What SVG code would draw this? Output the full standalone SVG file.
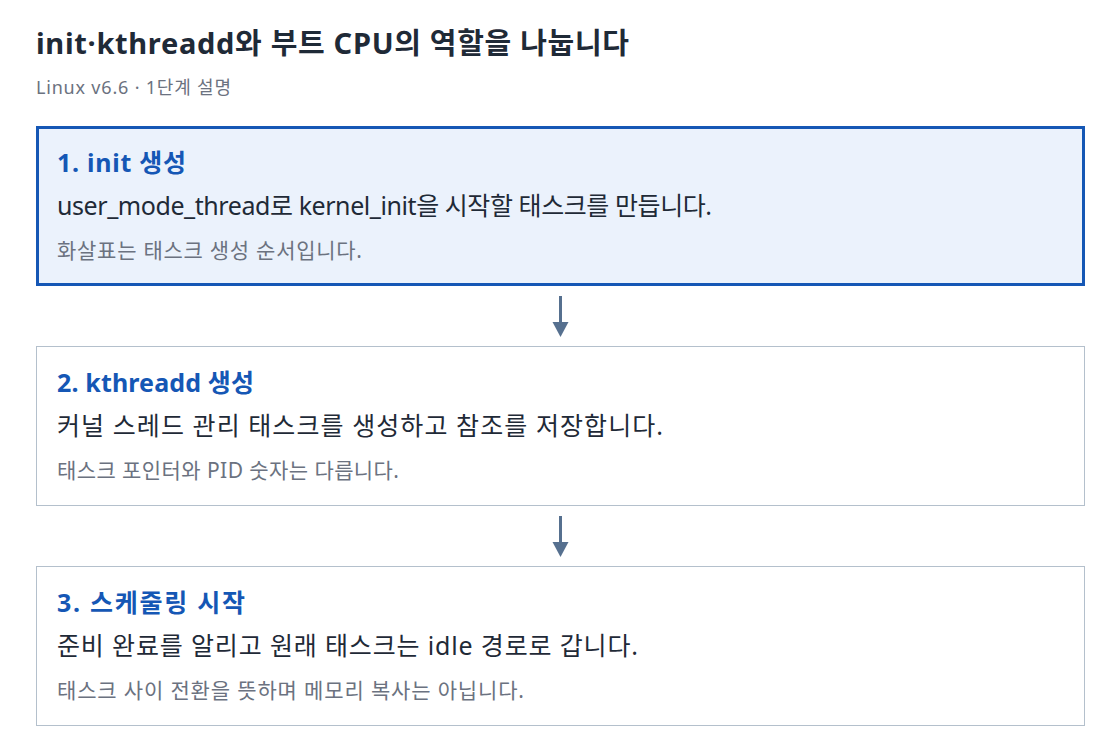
<svg xmlns="http://www.w3.org/2000/svg" width="1120" height="754" viewBox="0 0 1120 754">
<style>
text{font-family:"Noto Sans","Noto Sans CJK KR",sans-serif}
.title{font-size:29px;font-weight:700;fill:#1f2a37}
.sub{font-size:18px;fill:#6b7280}
.h{font-size:25px;font-weight:700;fill:#1557b5}
.b{font-size:25px;fill:#1f2a37}
.n{font-size:21px;fill:#6b7280}
.box{fill:#ffffff;stroke:#b4c0cc;stroke-width:1}
.box.on{fill:#ebf2fc;stroke:#1557b5;stroke-width:3}
.conn{stroke:#56708f;stroke-width:3;fill:none}
.head{fill:#56708f}
</style>
<rect width="1120" height="754" fill="#ffffff"/>
<text class="title" x="36" y="54" textLength="593">init·kthreadd와 부트 CPU의 역할을 나눕니다</text>
<text class="sub" x="36" y="94" textLength="195">Linux v6.6 · 1단계 설명</text>
<g id="connectors">
<line class="conn" x1="560.5" y1="296" x2="560.5" y2="322"/>
<path class="head" d="M552.5,322 L568.5,322 L560.5,337 Z"/>
<line class="conn" x1="560.5" y1="516" x2="560.5" y2="542"/>
<path class="head" d="M552.5,542 L568.5,542 L560.5,557 Z"/>
</g>
<g id="node1">
<rect class="box on" x="37.5" y="127.5" width="1046" height="157"/>
<text class="h" x="57" y="172" textLength="129">1. init 생성</text>
<text class="b" x="57" y="215" textLength="655">user_mode_thread로 kernel_init을 시작할 태스크를 만듭니다.</text>
<text class="n" x="57" y="258" textLength="305">화살표는 태스크 생성 순서입니다.</text>
</g>
<g id="node2">
<rect class="box" x="36.5" y="346.5" width="1048" height="159"/>
<text class="h" x="57" y="392" textLength="197">2. kthreadd 생성</text>
<text class="b" x="57" y="435" textLength="606">커널 스레드 관리 태스크를 생성하고 참조를 저장합니다.</text>
<text class="n" x="57" y="478" textLength="342">태스크 포인터와 PID 숫자는 다릅니다.</text>
</g>
<g id="node3">
<rect class="box" x="36.5" y="566.5" width="1048" height="159"/>
<text class="h" x="57" y="612" textLength="188">3. 스케줄링 시작</text>
<text class="b" x="57" y="655" textLength="581">준비 완료를 알리고 원래 태스크는 idle 경로로 갑니다.</text>
<text class="n" x="57" y="698" textLength="467">태스크 사이 전환을 뜻하며 메모리 복사는 아닙니다.</text>
</g>
</svg>
